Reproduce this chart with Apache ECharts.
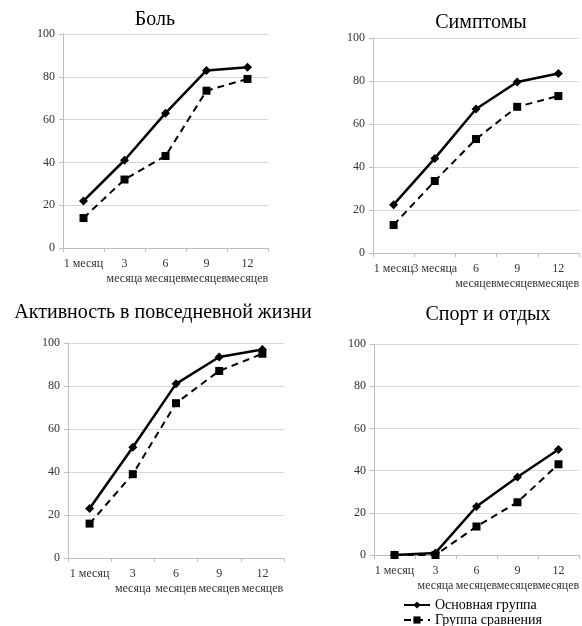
<!DOCTYPE html>
<html>
<head>
<meta charset="utf-8">
<script src="https://cdn.jsdelivr.net/npm/echarts@6/dist/echarts.min.js"></script>
<style>
html,body{margin:0;padding:0;background:#fff;}
#chart{width:582px;height:626px;}
</style>
</head>
<body>
<div id="chart"></div>
<script>
// ---- data ----
const titles = ['Боль', 'Симптомы', 'Активность в повседневной жизни', 'Спорт и отдых'];
const categoriesWrapped = ['1 месяц', '3\nмесяца', '6\nмесяцев', '9\nмесяцев', '12\nмесяцев'];
const categoriesSymptoms = ['1 месяц', '3 месяца', '6\nмесяцев', '9\nмесяцев', '12\nмесяцев'];
const seriesNames = ['Основная группа', 'Группа сравнения'];
const yTicks = [0, 20, 40, 60, 80, 100];

const painMain = [22, 41, 63, 83, 84.5];
const painComp = [14, 32, 43, 73.5, 79];
const symptomsMain = [22.5, 44, 67, 79.5, 83.5];
const symptomsComp = [13, 33.5, 53, 68, 73];
const dailyMain = [23, 51.5, 81, 93.5, 97];
const dailyComp = [16, 39, 72, 87, 95];
const sportMain = [0, 1, 23, 37, 50];
const sportComp = [0, 0, 13.5, 25, 43];

// ---- layout ----
const serif = "'Liberation Serif', 'Times New Roman', serif";
const grids = [
  {left: 63, top: 34, width: 205, height: 214},
  {left: 373, top: 38, width: 207, height: 215},
  {left: 68, top: 343, width: 216, height: 215},
  {left: 374, top: 344, width: 207, height: 211}
];
const titlePos = [[155, 20], [481, 23], [163, 313], [488, 315]];
const cats = [categoriesWrapped, categoriesSymptoms, categoriesWrapped, categoriesWrapped];
const dataSets = [[painMain, painComp], [symptomsMain, symptomsComp], [dailyMain, dailyComp], [sportMain, sportComp]];

const xAxes = [], yAxes = [], series = [], graphics = [];
for (let i = 0; i < 4; i++) {
  xAxes.push({
    type: 'category', gridIndex: i, data: cats[i], boundaryGap: true,
    axisLine: {lineStyle: {color: '#bfbfbf', width: 1}},
    axisTick: {show: true, length: 4, lineStyle: {color: '#bfbfbf'}},
    axisLabel: {interval: 0, margin: 8, color: '#333', fontFamily: serif, fontSize: 12, lineHeight: 15}
  });
  yAxes.push({
    type: 'value', gridIndex: i, min: yTicks[0], max: yTicks[yTicks.length - 1], interval: 20,
    axisLine: {show: true, lineStyle: {color: '#bfbfbf', width: 1}},
    axisTick: {show: true, length: 4, lineStyle: {color: '#bfbfbf'}},
    splitLine: {show: true, lineStyle: {color: '#d9d9d9', width: 1}},
    axisLabel: {margin: 8, color: '#333', fontFamily: serif, fontSize: 12}
  });
  series.push({
    name: seriesNames[0], type: 'line', xAxisIndex: i, yAxisIndex: i,
    data: dataSets[i][0], symbol: 'diamond', symbolSize: 9,
    itemStyle: {color: '#000'}, lineStyle: {color: '#000', width: 2.5}, animation: false
  });
  series.push({
    name: seriesNames[1], type: 'line', xAxisIndex: i, yAxisIndex: i,
    data: dataSets[i][1], symbol: 'rect', symbolSize: 8,
    itemStyle: {color: '#000'}, lineStyle: {color: '#000', width: 2, type: [7, 5]}, animation: false
  });
  graphics.push({
    type: 'text', x: titlePos[i][0], y: titlePos[i][1],
    style: {text: titles[i], font: '20px ' + serif, fill: '#000',
      align: 'center', textAlign: 'center', verticalAlign: 'middle', textVerticalAlign: 'middle'}
  });
}

const chart = echarts.init(document.getElementById('chart'), null, {renderer: 'canvas'});
chart.setOption({
  backgroundColor: '#fff',
  animation: false,
  grid: grids,
  xAxis: xAxes,
  yAxis: yAxes,
  series: series,
  graphic: graphics,
  legend: {
    data: seriesNames, orient: 'vertical', left: 403, top: 598, width: 170, height: 40,
    itemWidth: 26, itemHeight: 9, itemGap: 1, padding: 0,
    textStyle: {fontFamily: serif, fontSize: 14, color: '#000'}
  }
});
</script>
</body>
</html>
